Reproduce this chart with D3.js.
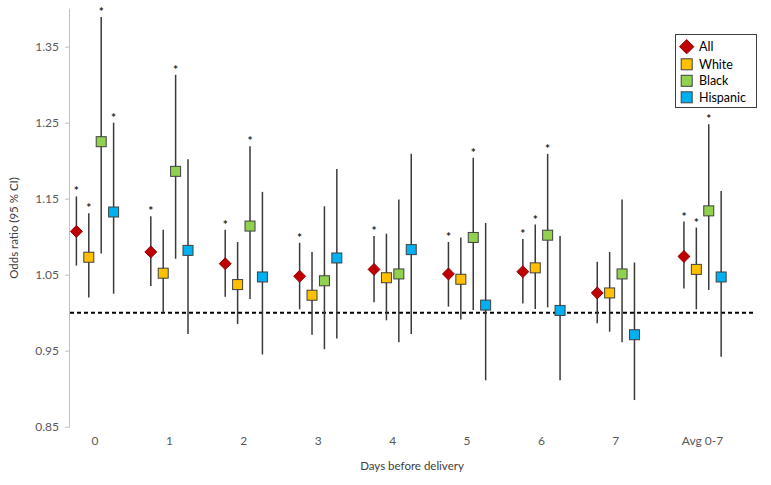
<!DOCTYPE html>
<html><head><meta charset="utf-8">
<script src="https://cdn.jsdelivr.net/npm/d3@7"></script>
<style>
html,body{margin:0;padding:0;background:#fff;}
svg{display:block;font-family:Lato,"Open Sans",sans-serif;}
</style></head>
<body><svg id="chart" width="771" height="485"></svg>
<script>
const categories = ["0","1","2","3","4","5","6","7","Avg 0-7"];
const seriesNames = ["All","White","Black","Hispanic"];
const yTicks = [0.85,0.95,1.05,1.15,1.25,1.35];

const allOR  = [1.107,1.080,1.0645,1.048,1.057,1.051,1.054,1.026,1.074];
const allLo  = [1.062,1.035,1.021,1.0045,1.0137,1.008,1.012,0.986,1.032];
const allHi  = [1.153,1.127,1.109,1.092,1.101,1.093,1.097,1.067,1.120];
const allSig = [1,1,1,1,1,1,1,0,1];

const whiteOR  = [1.073,1.052,1.037,1.023,1.046,1.044,1.059,1.026,1.057];
const whiteLo  = [1.020,1.000,0.985,0.971,0.990,0.991,1.005,0.975,1.0045];
const whiteHi  = [1.131,1.109,1.093,1.080,1.104,1.099,1.116,1.080,1.112];
const whiteSig = [1,0,0,0,0,0,1,0,1];

const blackOR  = [1.225,1.186,1.114,1.042,1.051,1.099,1.102,1.051,1.134];
const blackLo  = [1.078,1.071,1.018,0.952,0.961,1.0035,1.007,0.961,1.030];
const blackHi  = [1.389,1.313,1.219,1.140,1.149,1.204,1.209,1.149,1.248];
const blackSig = [1,1,1,0,0,1,1,0,1];

const hispOR  = [1.1325,1.082,1.047,1.072,1.083,1.010,1.003,0.971,1.047];
const hispLo  = [1.025,0.972,0.945,0.966,0.972,0.911,0.911,0.885,0.942];
const hispHi  = [1.250,1.202,1.159,1.189,1.209,1.118,1.101,1.066,1.160];
const hispSig = [1,0,0,0,0,0,0,0,0];

const refLine = 1.0;

// ---- layout / style ----
const colors = {All:"#c00000",White:"#ffc000",Black:"#92d050",Hispanic:"#00b0f0"};
const strokes = {All:"#8b0000",White:"#5a4a20",Black:"#3f5a2a",Hispanic:"#1f4a66"};
const seriesData = {
  All:{or:allOR,lo:allLo,hi:allHi,sig:allSig},
  White:{or:whiteOR,lo:whiteLo,hi:whiteHi,sig:whiteSig},
  Black:{or:blackOR,lo:blackLo,hi:blackHi,sig:blackSig},
  Hispanic:{or:hispOR,lo:hispLo,hi:hispHi,sig:hispSig}
};
const avgGap = 0.165;
const seriesStep = 0.1667;

const svg = d3.select("#chart");
const x = d3.scaleLinear().domain([-0.336, 8.87]).range([70, 755]);
const y = d3.scaleLinear().domain([0.85, 1.40]).range([426.7, 8.7]);

const catPos = i => i + (i === categories.length - 1 ? avgGap : 0);
const serPos = (i, s) => catPos(i) + (s - 1.5) * seriesStep;

// y axis
const yAxis = d3.axisLeft(y).tickValues(yTicks).tickFormat(d3.format(".2f")).tickSize(5).tickPadding(6);
const gy = svg.append("g").attr("transform","translate(70,0)").call(yAxis);
gy.select(".domain").attr("stroke","#bfbfbf").attr("d","M-0.5,"+y(1.40)+"V"+y(0.85));
gy.selectAll(".tick line").attr("stroke","#bfbfbf");
gy.selectAll(".tick text").attr("fill","#595959").style("font-size","12px").style("font-family","Lato, sans-serif");

// y title
svg.append("text").attr("transform","translate(18,228) rotate(-90)")
  .attr("text-anchor","middle").attr("fill","#404040").style("font-size","11.5px")
  .text("Odds ratio (95 % CI)");

// category labels
svg.append("g").selectAll("text").data(categories).join("text")
  .attr("x",(d,i)=>x(catPos(i))).attr("y",445)
  .attr("text-anchor","middle").attr("fill","#595959").style("font-size","12px")
  .text(d=>d);

// x title
svg.append("text").attr("x",412).attr("y",470).attr("text-anchor","middle")
  .attr("fill","#404040").style("font-size","11.5px").text("Days before delivery");

// reference line
svg.append("line").attr("x1",x(-0.336)).attr("x2",x(8.87)).attr("y1",y(refLine)).attr("y2",y(refLine))
  .attr("stroke","#000").attr("stroke-width",2).attr("stroke-dasharray","4,3");

// error bars, markers, stars
seriesNames.forEach((name, s) => {
  const sd = seriesData[name];
  const g = svg.append("g");
  const idx = d3.range(categories.length);
  g.selectAll("line").data(idx).join("line")
    .attr("x1",i=>x(serPos(i,s))).attr("x2",i=>x(serPos(i,s)))
    .attr("y1",i=>y(sd.lo[i])).attr("y2",i=>y(sd.hi[i]))
    .attr("stroke","#3a3a3a").attr("stroke-width",1.5);
  g.selectAll("text").data(idx.filter(i=>sd.sig[i])).join("text")
    .attr("x",i=>x(serPos(i,s))).attr("y",i=>y(sd.hi[i])-1)
    .attr("text-anchor","middle").attr("fill","#222").style("font-size","12px").style("font-weight","bold")
    .text("*");
  if (name === "All") {
    g.selectAll("path.m").data(idx).join("path").attr("class","m")
      .attr("d", d3.symbol(d3.symbolDiamond2, 90)())
      .attr("transform", i=>`translate(${x(serPos(i,s))},${y(sd.or[i])}) rotate(0)`)
      .attr("fill",colors[name]).attr("stroke",strokes[name]).attr("stroke-width",1);
  } else {
    g.selectAll("rect.m").data(idx).join("rect").attr("class","m")
      .attr("x",i=>x(serPos(i,s))-5).attr("y",i=>y(sd.or[i])-5)
      .attr("width",10).attr("height",10)
      .attr("fill",colors[name]).attr("stroke","#404040").attr("stroke-width",1);
  }
});

// legend
const lg = svg.append("g");
lg.append("rect").attr("x",675.5).attr("y",34.5).attr("width",81).attr("height",73)
  .attr("fill","#fff").attr("stroke","#404040").attr("stroke-width",1);
const ly = [46.7,64.3,80.8,97.3];
seriesNames.forEach((name,k)=>{
  if (name==="All") {
    lg.append("path").attr("d", d3.symbol(d3.symbolDiamond2, 130)())
      .attr("transform",`translate(686.7,${ly[k]})`)
      .attr("fill",colors[name]).attr("stroke",strokes[name]);
  } else {
    lg.append("rect").attr("x",681.2).attr("y",ly[k]-5.5).attr("width",11).attr("height",11)
      .attr("fill",colors[name]).attr("stroke","#404040");
  }
  lg.append("text").attr("x",699).attr("y",ly[k]).attr("dy","0.35em")
    .attr("fill","#000").style("font-size","12.5px").text(name);
});
</script></body></html>
